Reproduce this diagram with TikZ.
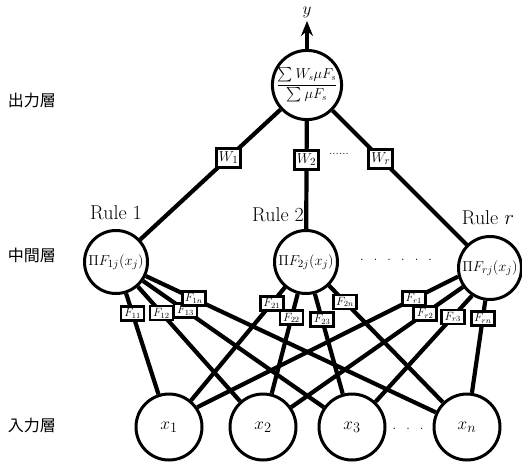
\documentclass[tikz,border=0pt]{standalone}
\usepackage{amsmath}
\usepackage{fontspec}
\newfontfamily\jpfont{Noto Sans CJK JP}
\usetikzlibrary{arrows.meta}

\begin{document}
\begin{tikzpicture}[x=1pt,y=-1pt,
  unit/.style={circle,draw,line width=3pt,inner sep=0pt},
  link/.style={line width=4.2pt},
  wbox/.style={draw,fill=white,line width=2.8pt,inner sep=1pt,minimum width=24pt,minimum height=19pt,font=\fontsize{15}{17}\selectfont},
  fbox/.style={draw,fill=white,line width=2.8pt,inner sep=1pt,minimum width=23pt,minimum height=14pt,font=\fontsize{12}{13}\selectfont},
  layer/.style={font=\jpfont\fontsize{16}{18}\selectfont},
  rulename/.style={font=\fontsize{20}{22}\selectfont},
  ]
\useasboundingbox (0,0) rectangle (522,464);

% output layer
\node[unit,minimum size=61pt,font=\fontsize{13.5}{15}\selectfont] (out) at (307,85) {$\dfrac{\textstyle\sum W_s\mu F_s}{\textstyle\sum\mu F_s}$};
\node[font=\fontsize{18}{20}\selectfont] (y) at (307,12) {$y$};
\draw[line width=3.6pt,-{Stealth[length=15pt,width=12pt]}] (out) -- (y);

% rule layer
\node[unit,minimum size=63pt,font=\fontsize{15.5}{18}\selectfont] (h1) at (116,262) {$\Pi F_{1j}(x_j)$};
\node[unit,minimum size=63pt,font=\fontsize{15.5}{18}\selectfont] (h2) at (306,262) {$\Pi F_{2j}(x_j)$};
\node[unit,minimum size=63pt,font=\fontsize{15.5}{18}\selectfont] (hr) at (490,268) {$\Pi F_{rj}(x_j)$};
\node[rulename] (r1) at (116,213) {Rule 1};
\node[rulename] (r2) at (278,215) {Rule 2};
\node[rulename] (rr) at (488,218) {Rule $r$};
\node[font=\fontsize{16}{18}\selectfont] (hdots) at (396,260) {.\ \ .\ \ .\ \ .\ \ .\ \ .};

% input layer
\foreach \i/\x in {1/169,2/263,3/352,n/467}
  \node[unit,minimum size=66pt,font=\fontsize{19}{21}\selectfont] (x\i) at (\x,427) {$x_\i$};
\node[font=\fontsize{16}{18}\selectfont] (xdots) at (408,429) {.\ \ .\ \ .};

% layer names
\node[layer] (lo) at (32,100) {出力層};
\node[layer] (lh) at (32,255) {中間層};
\node[layer] (li) at (32,425) {入力層};

% weights
\draw[link] (out) -- node[wbox,pos=0.37] {$W_1$} (h1);
\draw[link] (out) -- node[wbox,pos=0.36] {$W_2$} (h2);
\draw[link] (out) -- node[wbox,pos=0.36] {$W_r$} (hr);
\node[font=\fontsize{12}{14}\selectfont] (wdots) at (339,154) {......};

% membership functions
\foreach \h/\x/\lab/\p in {h1/x1/F_{11}/0.2, h1/x2/F_{12}/0.23, h1/x3/F_{13}/0.235, h1/xn/F_{1n}/0.165,
    h2/x1/F_{21}/0.14, h2/x2/F_{22}/0.24, h2/x3/F_{23}/0.26, h2/xn/F_{2n}/0.14,
    hr/x2/F_{r2}/0.22, hr/xn/F_{rn}/0.19}
  \draw[link] (\h) -- node[fbox,pos=\p] {$\lab$} (\x);
\draw[link] (hr.195) -- node[fbox,pos=0.17] {$F_{r1}$} (x1.35);
\draw[link] (hr.237) -- node[fbox,pos=0.2] {$F_{r3}$} (x3.47);
\end{tikzpicture}
\end{document}
